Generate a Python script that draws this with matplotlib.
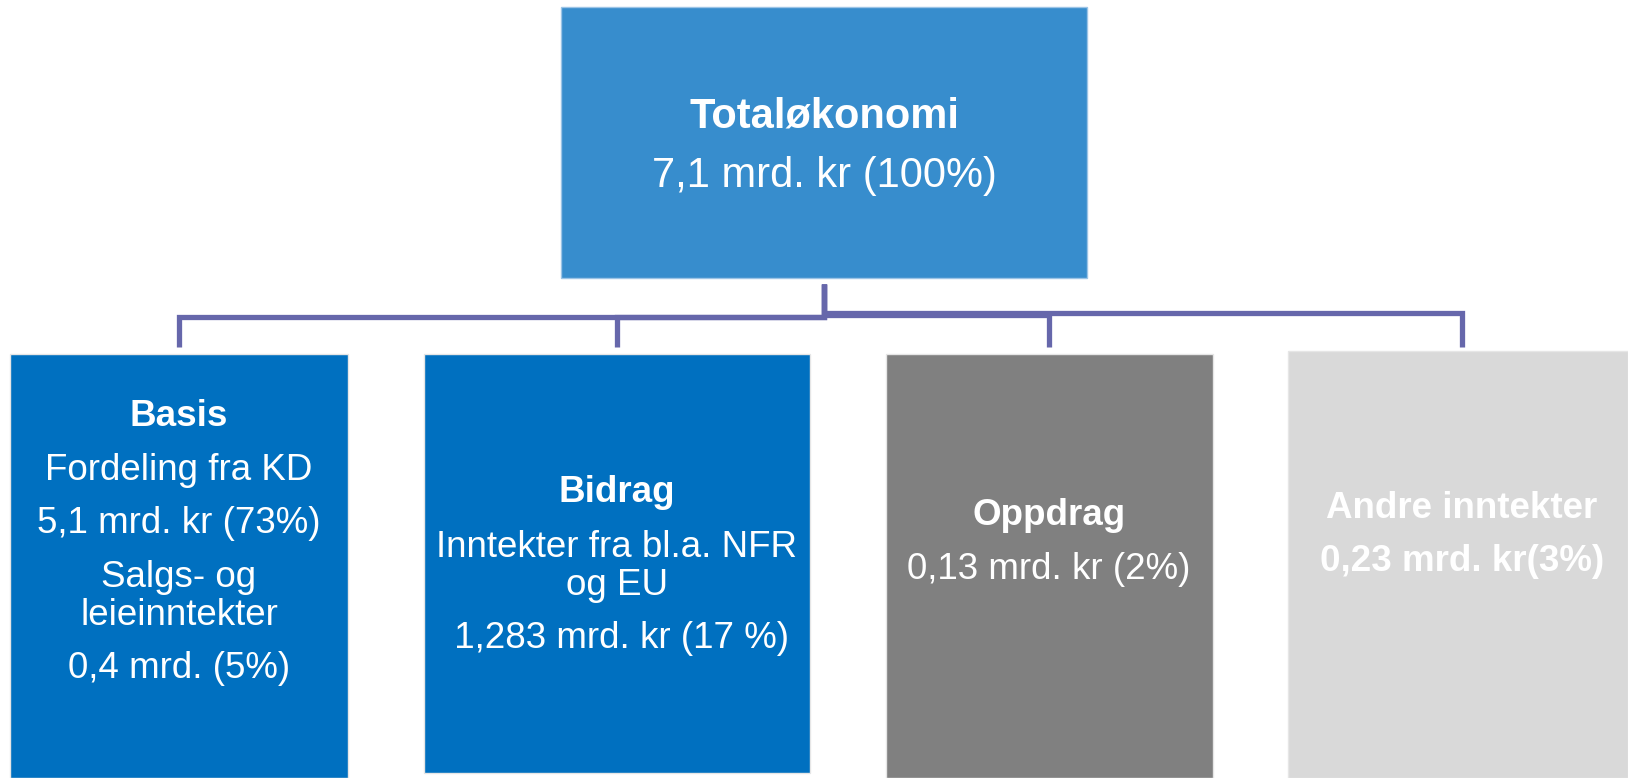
import matplotlib.pyplot as plt
from matplotlib.patches import Rectangle

plt.rcParams['font.family'] = ['Liberation Sans', 'DejaVu Sans']

# chart content
top_title = 'Totaløkonomi'
top_lines = ['7,1 mrd. kr (100%)']

child_titles = ['Basis', 'Bidrag', 'Oppdrag', 'Andre inntekter']
child_lines = [
    ['Fordeling fra KD', '5,1 mrd. kr (73%)', 'Salgs- og', 'leieinntekter', '0,4 mrd. (5%)'],
    ['Inntekter fra bl.a. NFR', 'og EU', ' 1,283 mrd. kr (17 %)'],
    ['0,13 mrd. kr (2%)'],
    ['0,23 mrd. kr(3%)'],
]

# layout (pixels, y down)
W, H = 1628, 778
top_box = (561, 7, 1087, 278)
top_base = [127, 187]
child_boxes = [(10, 354, 348, 778), (424, 354, 810, 773),
               (886, 354, 1213, 778), (1288, 351, 1628, 778)]
child_cx = [179, 617, 1049, 1462]
child_base = [[426, 480, 533, 587, 625, 678],
              [502, 557, 595, 648],
              [525, 579],
              [518, 571]]
child_fill = ['#0070C0', '#0070C0', '#808080', '#D9D9D9']
rest_bold = [False, False, False, True]
drop_x = [179, 617, 1049, 1462]
elbow_y = [317, 317, 315, 313]
line_col = '#6667AB'

fig = plt.figure(figsize=(W / 100, H / 100), dpi=100)
ax = fig.add_axes([0, 0, 1, 1])
ax.set_xlim(0, W)
ax.set_ylim(H, 0)
ax.axis('off')

# connectors
cx_top = (top_box[0] + top_box[2]) / 2
for x, ym in zip(drop_x, elbow_y):
    ax.plot([cx_top, cx_top, x, x], [284, ym, ym, 347], color=line_col,
            lw=3.8, solid_joinstyle='miter', solid_capstyle='butt')

# top box
x0, y0, x1, y1 = top_box
ax.add_patch(Rectangle((x0, y0), x1 - x0, y1 - y0, facecolor='#378DCD',
                       edgecolor='#9CC4E6', lw=1))
ax.text(cx_top, top_base[0], top_title, ha='center', va='baseline',
        fontsize=30, fontweight='bold', color='white')
for t, b in zip(top_lines, top_base[1:]):
    ax.text(cx_top, b, t, ha='center', va='baseline', fontsize=30, color='white')

# child boxes
for i, (x0, y0, x1, y1) in enumerate(child_boxes):
    ax.add_patch(Rectangle((x0, y0), x1 - x0, y1 - y0, facecolor=child_fill[i],
                           edgecolor='#E6E6E6', lw=1))
    base = child_base[i]
    ax.text(child_cx[i], base[0], child_titles[i], ha='center', va='baseline',
            fontsize=26.5, fontweight='bold', color='white')
    for t, b in zip(child_lines[i], base[1:]):
        ax.text(child_cx[i], b, t, ha='center', va='baseline', fontsize=26.5,
                fontweight='bold' if rest_bold[i] else 'normal', color='white')

fig.savefig('out.png', dpi=100)
